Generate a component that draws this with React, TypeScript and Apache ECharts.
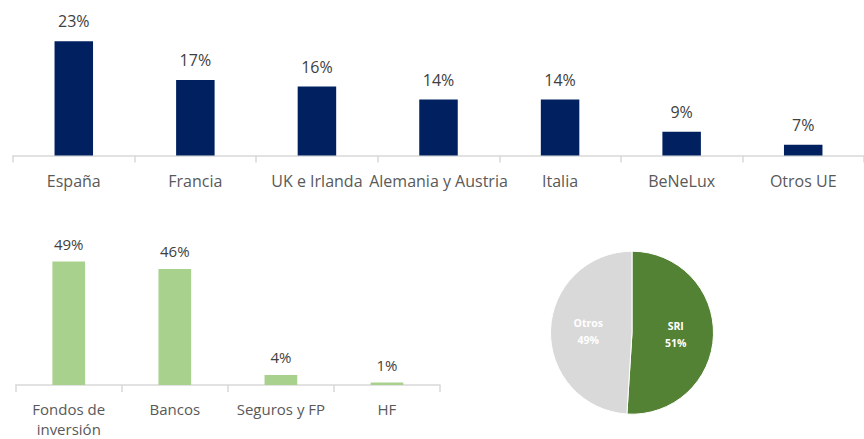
import React, { useEffect, useRef } from "react";
import * as echarts from "echarts";

const regionCategories = ["España", "Francia", "UK e Irlanda", "Alemania y Austria", "Italia", "BeNeLux", "Otros UE"];
const regionValues = [23, 17, 16, 14, 14, 9, 7];

const investorCategories = ["Fondos de\ninversión", "Bancos", "Seguros y FP", "HF"];
const investorValues = [49, 46, 4, 1];

const pieNames = ["SRI", "Otros"];
const pieValues = [51, 49];

const FONT = "'Open Sans', sans-serif";

export default function App() {
  const ref = useRef<HTMLDivElement>(null);
  useEffect(() => {
    if (!ref.current) return;
    const chart = echarts.init(ref.current, null, { renderer: "svg" });
    chart.setOption({
      animation: false,
      backgroundColor: "#ffffff",
      textStyle: { fontFamily: FONT },
      grid: [
        { left: 13, top: 28.3, width: 861, height: 127.2, containLabel: false },
        { left: 15.7, top: 246.3, width: 424.3, height: 145.2, containLabel: false },
      ],
      xAxis: [
        {
          type: "category",
          gridIndex: 0,
          data: regionCategories,
          axisLine: { show: true, lineStyle: { color: "#d9d9d9", width: 1.5 } },
          axisTick: { show: true, length: 7, alignWithLabel: false, lineStyle: { color: "#d9d9d9", width: 1.5 } },
          axisLabel: { interval: 0, color: "#595959", fontSize: 16, fontFamily: FONT, margin: 17 },
        },
        {
          type: "category",
          gridIndex: 1,
          data: investorCategories,
          axisLine: { show: true, lineStyle: { color: "#d9d9d9", width: 1.5 } },
          axisTick: { show: true, length: 7, lineStyle: { color: "#d9d9d9", width: 1.5 } },
          axisLabel: { interval: 0, color: "#595959", fontSize: 15, fontFamily: FONT, margin: 14, lineHeight: 20 },
        },
      ],
      yAxis: [
        { type: "value", gridIndex: 0, min: 5.35, max: 25, show: false, splitLine: { show: false } },
        { type: "value", gridIndex: 1, min: 0, max: 55, show: false, splitLine: { show: false } },
      ],
      series: [
        {
          type: "bar",
          xAxisIndex: 0,
          yAxisIndex: 0,
          data: regionValues,
          barWidth: 38.5,
          itemStyle: { color: "#002060" },
          label: {
            show: true,
            position: "top",
            distance: 12,
            formatter: "{c}%",
            color: "#404040",
            fontSize: 16,
            fontFamily: FONT,
          },
        },
        {
          type: "bar",
          xAxisIndex: 1,
          yAxisIndex: 1,
          data: investorValues,
          barWidth: 32.7,
          itemStyle: { color: "#a9d18e" },
          label: {
            show: true,
            position: "top",
            distance: 10,
            formatter: "{c}%",
            color: "#404040",
            fontSize: 15,
            fontFamily: FONT,
          },
        },
        {
          type: "pie",
          center: [632, 332.7],
          radius: [0, 81.5],
          startAngle: 90,
          clockwise: true,
          data: pieNames.map((n, i) => ({ name: n, value: pieValues[i] })),
          color: ["#548235", "#d9d9d9"],
          itemStyle: { borderColor: "#ffffff", borderWidth: 1 },
          labelLine: { show: false },
          label: {
            show: true,
            position: "inside",
            formatter: "{b}\n{c}%",
            color: "#ffffff",
            fontWeight: "bold",
            fontSize: 10.5,
            lineHeight: 17,
            fontFamily: FONT,
          },
          emphasis: { disabled: true },
        },
      ],
    });
    return () => chart.dispose();
  }, []);
  return <div ref={ref} style={{ position: "fixed", left: 0, top: 0, width: 864, height: 439 }} />;
}
